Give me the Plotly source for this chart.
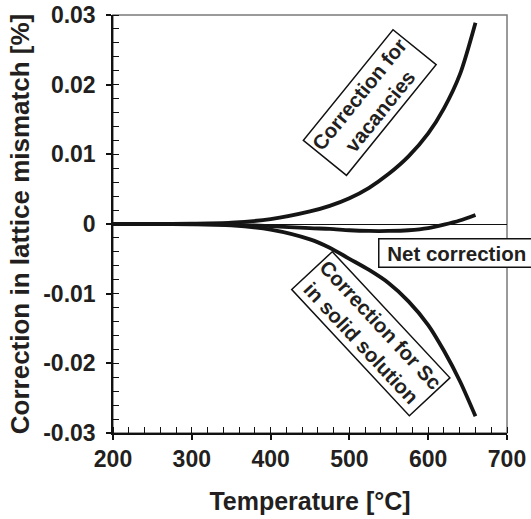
import plotly.graph_objects as go

# ---- data ----
temperature = [200, 250, 300, 350, 400, 450, 475, 500, 525, 550, 575, 600, 620, 640, 660]
corr_vacancies = [0.0, 0.0, 0.00005, 0.0002, 0.0007, 0.0018, 0.0026, 0.0037, 0.0052,
                  0.0072, 0.0097, 0.0130, 0.0166, 0.0214, 0.0289]
corr_sc = [0.0, 0.0, -0.00005, -0.0002, -0.0008, -0.0022, -0.0034, -0.0050, -0.0066,
           -0.0085, -0.0111, -0.0145, -0.0182, -0.0225, -0.0276]
corr_net = [0.0, 0.0, 0.0, -0.0001, -0.0003, -0.0006, -0.0007, -0.0009, -0.0010,
            -0.0010, -0.0009, -0.0006, -0.0001, 0.0005, 0.0013]

x_ticks = [200, 300, 400, 500, 600, 700]
x_labels = ["200", "300", "400", "500", "600", "700"]
y_ticks = [-0.03, -0.02, -0.01, 0, 0.01, 0.02, 0.03]
y_labels = ["-0.03", "-0.02", "-0.01", "0", "0.01", "0.02", "0.03"]

labels = [
    ("Correction for<br>vacancies", 526, 0.0174, -51),
    ("Correction for Sc<br>in solid solution", 527, -0.0157, 47),
    ("&nbsp;Net correction&nbsp;", 636, -0.0042, 0),
]

FONT = "Liberation Sans, Arial, sans-serif"
TXT = "#231f20"
LINE = "#151515"

fig = go.Figure()
for ys in (corr_vacancies, corr_sc, corr_net):
    fig.add_trace(go.Scatter(x=temperature, y=ys, mode="lines",
                             line=dict(color=LINE, width=3.8, shape="spline", smoothing=0.8),
                             showlegend=False, hoverinfo="skip"))

for text, xx, yy, ang in labels:
    fig.add_annotation(x=xx, y=yy, xref="x", yref="y", text=text, showarrow=False,
                       textangle=ang, bgcolor="white", bordercolor="#111",
                       borderwidth=1.5, borderpad=2,
                       font=dict(family=FONT, size=20.5, color=TXT, weight="bold"))

fig.update_layout(
    width=531, height=519,
    margin=dict(l=113, r=24, t=15, b=86),
    paper_bgcolor="white", plot_bgcolor="white",
    font=dict(family=FONT, color=TXT),
    xaxis=dict(range=[200, 700], tickvals=x_ticks, ticktext=x_labels, automargin=False,
               ticklabeloverflow="allow",
               showgrid=False, zeroline=False, showline=True, linecolor="#111", linewidth=1.5,
               ticks="outside", ticklen=5, tickwidth=1.5, tickcolor="#111",
               minor=dict(dtick=20, ticks="inside", ticklen=6, tickwidth=1, tickcolor="#111", showgrid=False),
               tickfont=dict(family=FONT, size=23, color=TXT, weight="bold"),
               ticklabelstandoff=0,
               title=dict(text="Temperature [°C]", standoff=21,
                          font=dict(family=FONT, size=25, color=TXT, weight="bold"))),
    yaxis=dict(range=[-0.03, 0.03], tickvals=y_ticks, ticktext=y_labels, automargin=False,
               ticklabeloverflow="allow",
               showgrid=False, zeroline=True, zerolinecolor="#111", zerolinewidth=1,
               showline=True, linecolor="#111", linewidth=1.5,
               ticks="outside", ticklen=5, tickwidth=1.5, tickcolor="#111",
               minor=dict(dtick=0.002, ticks="inside", ticklen=6, tickwidth=1, tickcolor="#111", showgrid=False),
               tickfont=dict(family=FONT, size=23, color=TXT, weight="bold"),
               ticklabelstandoff=6,
               title=dict(text="Correction in lattice mismatch [%]", standoff=6,
                          font=dict(family=FONT, size=26, color=TXT, weight="bold"))),
    xaxis2=dict(range=[200, 700], overlaying="x", anchor="y", side="bottom", automargin=False,
                tickvals=x_ticks, showticklabels=False, ticks="inside", ticklen=6,
                tickwidth=1.5, tickcolor="#111", showgrid=False, zeroline=False, showline=False),
    yaxis2=dict(range=[-0.03, 0.03], overlaying="y", anchor="x", side="left", automargin=False,
                tickvals=y_ticks, showticklabels=False, ticks="inside", ticklen=6,
                tickwidth=1.5, tickcolor="#111", showgrid=False, zeroline=False, showline=False),
    shapes=[dict(type="rect", xref="paper", yref="paper", x0=0, x1=1, y0=0, y1=1,
                 line=dict(color="#7a7a7a", width=1.5), layer="below")],
)

# remove the browser's default 8px body margin so the figure sits at the page corner
fig.write_html("out.html", config={"displayModeBar": False},
               post_script="document.body.style.margin='0';")
